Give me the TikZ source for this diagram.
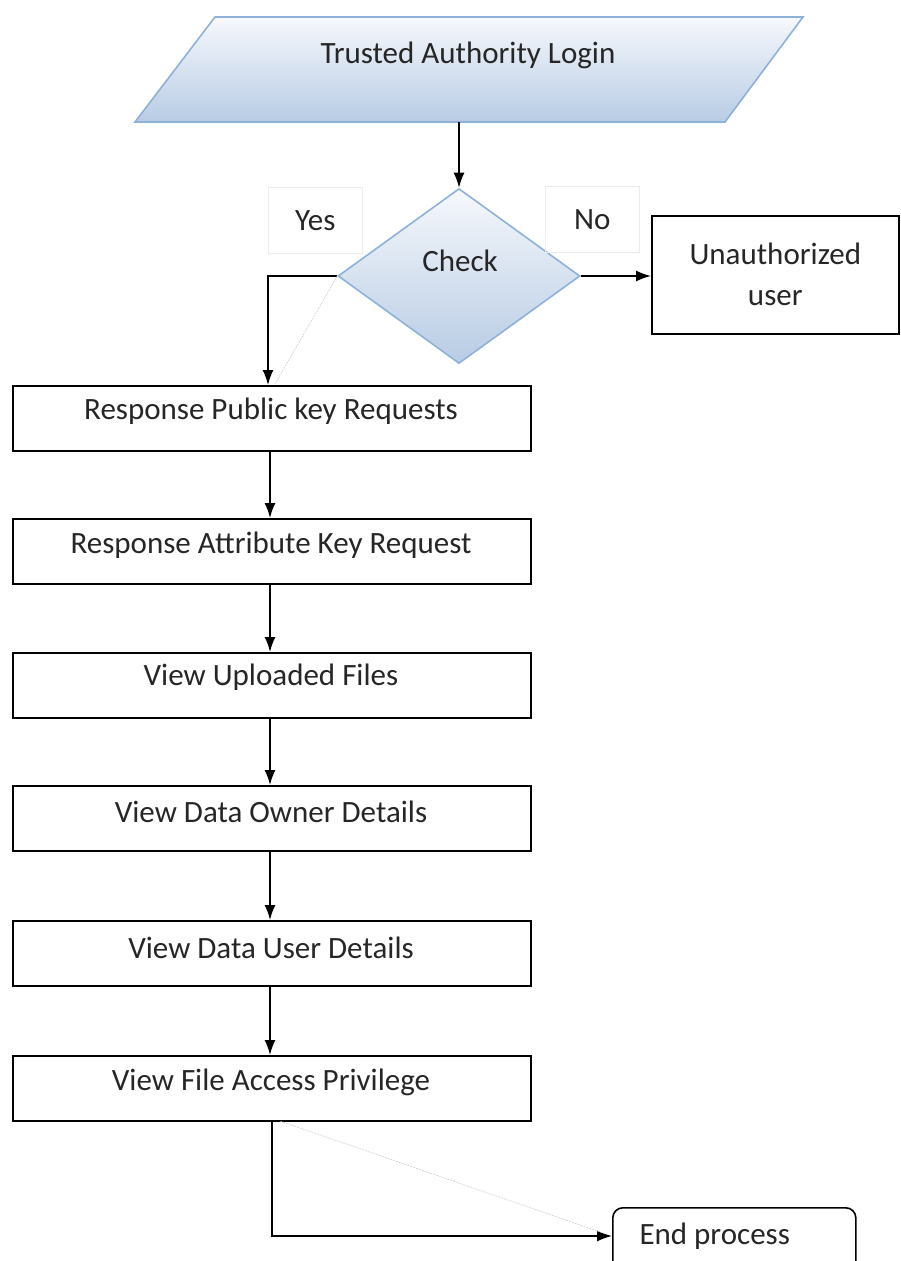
\documentclass[tikz,border=0pt]{standalone}
\usepackage{fontspec}
\setmainfont{Carlito}
\usetikzlibrary{shapes.geometric,arrows.meta}
\definecolor{shapeedge}{HTML}{8EB1DA}
\definecolor{shadetop}{HTML}{F6F8FC}
\definecolor{shadebot}{HTML}{B8CCE4}
\definecolor{labeledge}{HTML}{ECECEC}
\definecolor{guide}{HTML}{C8C8C8}
\tikzset{
  txt/.style={font=\fontsize{31}{37}\selectfont, text=black!85},
  stepbox/.style={draw, line width=1.6pt, minimum width=518pt, minimum height=65pt, inner sep=0pt, anchor=north west},
  flow/.style={line width=1.6pt, -{Latex[length=15pt,width=11pt]}},
  tag/.style={draw=labeledge, line width=0.6pt, minimum width=94pt, minimum height=66pt, anchor=north west, inner sep=0pt},
  guideline/.style={draw=guide, line width=0.5pt, dash pattern=on 2pt off 1pt},
}
\begin{document}
\begin{tikzpicture}[x=1pt,y=-1pt]
\useasboundingbox (0,0) rectangle (900,1261);

% login parallelogram
\shade[top color=shadetop, bottom color=shadebot, draw=shapeedge, line width=1.6pt]
  (215,17) -- (803,17) -- (725,122) -- (135,122) -- cycle;
\node[txt] (login) at (468,55) {Trusted Authority Login};
\coordinate (loginout) at (459,122);

% decision
\node[diamond, draw=shapeedge, line width=1.6pt, top color=shadetop, bottom color=shadebot,
      minimum width=242pt, minimum height=175pt, inner sep=0pt] (check) at (459,276) {};
\node[txt] (checktxt) at (460,261) {Check};

% yes / no tags
\node[tag] (yes) at (268,187) {};
\node[txt] at (yes.center) {Yes};
\node[tag] (no) at (545,186) {};
\node[txt] at (no.center) {No};

% rejected branch
\node[draw, line width=1.6pt, minimum width=247pt, minimum height=118pt, anchor=north west,
      inner sep=0pt, align=center, txt] (unauth) at (651,215) {Unauthorized\\[4pt]user};

% main sequence
\node[stepbox] (s1) at (12,385) {};
\node[txt] at (271,411) {Response Public key Requests};
\node[stepbox] (s2) at (12,518) {};
\node[txt] at (271,545) {Response Attribute Key Request};
\node[stepbox] (s3) at (12,652) {};
\node[txt] at (271,677) {View Uploaded Files};
\node[stepbox] (s4) at (12,785) {};
\node[txt] at (271,812) {View Data Owner Details};
\node[stepbox] (s5) at (12,920) {};
\node[txt] at (271,948) {View Data User Details};
\node[stepbox] (s6) at (12,1055) {};
\node[txt] at (271,1082) {View File Access Privilege};

% end
\node[draw, line width=1.6pt, rounded corners=10pt, minimum width=243pt, minimum height=70pt,
      anchor=north west, inner sep=0pt] (endp) at (612,1207) {};
\node[txt, anchor=west] at (636,1236) {End process};

% connectors
\draw[flow] (loginout) -- (check.north);
\draw[flow] (check.east) -- (unauth.west |- check.east);
\draw[flow] (check.west) -| (s1.north west -| 268,0);
\draw[guideline] (check.west) -- (275,384);
\draw[flow] (s1.south -| 270,0) -- (s2.north -| 270,0);
\draw[flow] (s2.south -| 270,0) -- (s3.north -| 270,0);
\draw[flow] (s3.south -| 270,0) -- (s4.north -| 270,0);
\draw[flow] (s4.south -| 270,0) -- (s5.north -| 270,0);
\draw[flow] (s5.south -| 270,0) -- (s6.north -| 270,0);
\draw[flow] (s6.south -| 272,0) |- (endp.west |- 0,1236);
\draw[guideline] (280,1121) -- (606,1234);
\end{tikzpicture}
\end{document}
